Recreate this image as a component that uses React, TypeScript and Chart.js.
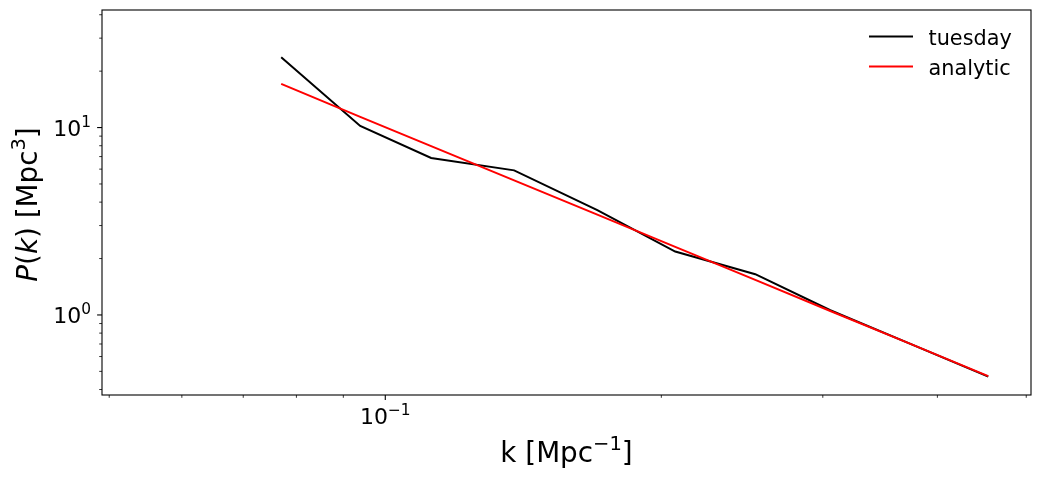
import React, { useEffect, useRef } from "react";
import { Chart, registerables } from "chart.js";

Chart.register(...registerables);

// ---- data ----
const kValues = [0.077, 0.0939, 0.1122, 0.1382, 0.1703, 0.2071, 0.2532, 0.3057, 0.3727, 0.4545];
const tuesdayP = [23.7, 10.2, 6.88, 5.91, 3.63, 2.18, 1.65, 1.06, 0.705, 0.469];
const analyticP = [17.1, 11.4, 7.96, 5.23, 3.43, 2.31, 1.54, 1.05, 0.705, 0.472];

const seriesLabels = ["tuesday", "analytic"];
const seriesColors = ["#000000", "#ff0000"];

const xMin = 0.0491;
const xMax = 0.506;
const yMin = 0.374;
const yMax = 42.4;

const xTickValues = [0.05, 0.06, 0.07, 0.08, 0.09, 0.1, 0.2, 0.3, 0.4, 0.5];
const xMajorTicks = [0.1];
const xMajorLabels = [["10", "\u22121"]];

const yTickValues = [0.4, 0.5, 0.6, 0.7, 0.8, 0.9, 1, 2, 3, 4, 5, 6, 7, 8, 9, 10, 20, 30, 40];
const yMajorTicks = [1, 10];
const yMajorLabels = [["10", "0"], ["10", "1"]];

const FONT = "'DejaVu Sans', sans-serif";

type Part = { text: string; size: number; italic?: boolean; rise?: number };

function fontOf(p: Part) {
  return `${p.italic ? "italic " : ""}${p.size}px ${FONT}`;
}

function drawRich(ctx: CanvasRenderingContext2D, parts: Part[], x: number, y: number, align: "left" | "center" | "right") {
  let total = 0;
  const widths = parts.map((p) => {
    ctx.font = fontOf(p);
    const w = ctx.measureText(p.text).width;
    total += w;
    return w;
  });
  let cx = align === "left" ? x : align === "center" ? x - total / 2 : x - total;
  ctx.textAlign = "left";
  ctx.textBaseline = "alphabetic";
  parts.forEach((p, i) => {
    ctx.font = fontOf(p);
    ctx.fillText(p.text, cx, y - (p.rise || 0));
    cx += widths[i];
  });
}

const decorPlugin = {
  id: "decor",
  afterDraw(chart: any) {
    const { ctx, chartArea: a, scales } = chart;
    const xs = scales.x;
    const ys = scales.y;
    ctx.save();
    ctx.fillStyle = "#000";
    ctx.strokeStyle = "#000";

    // frame
    ctx.lineWidth = 1.1;
    ctx.strokeRect(a.left, a.top, a.right - a.left, a.bottom - a.top);

    // x ticks
    xTickValues.forEach((v) => {
      const px = xs.getPixelForValue(v);
      const major = xMajorTicks.includes(v);
      ctx.lineWidth = major ? 1.1 : 0.8;
      ctx.beginPath();
      ctx.moveTo(px, a.bottom);
      ctx.lineTo(px, a.bottom + (major ? 4.9 : 2.8));
      ctx.stroke();
    });
    xMajorTicks.forEach((v, i) => {
      const px = xs.getPixelForValue(v);
      const [base, sup] = xMajorLabels[i];
      drawRich(ctx, [
        { text: base, size: 22 },
        { text: sup, size: 15.4, rise: 9.5 },
      ], px, a.bottom + 29, "center");
    });

    // y ticks
    yTickValues.forEach((v) => {
      const py = ys.getPixelForValue(v);
      const major = yMajorTicks.includes(v);
      ctx.lineWidth = major ? 1.1 : 0.8;
      ctx.beginPath();
      ctx.moveTo(a.left, py);
      ctx.lineTo(a.left - (major ? 4.9 : 2.8), py);
      ctx.stroke();
    });
    yMajorTicks.forEach((v, i) => {
      const py = ys.getPixelForValue(v);
      const [base, sup] = yMajorLabels[i];
      drawRich(ctx, [
        { text: base, size: 22 },
        { text: sup, size: 15.4, rise: 9.5 },
      ], a.left - 11, py + 8.5, "right");
    });

    // x axis title
    drawRich(ctx, [
      { text: "k [Mpc", size: 27.8 },
      { text: "\u22121", size: 19.5, rise: 12 },
      { text: "]", size: 27.8 },
    ], (a.left + a.right) / 2, 462, "center");

    // y axis title
    ctx.save();
    ctx.translate(36.5, 204.5);
    ctx.rotate(-Math.PI / 2);
    drawRich(ctx, [
      { text: "P", size: 27.8, italic: true },
      { text: "(", size: 27.8 },
      { text: "k", size: 27.8, italic: true },
      { text: ") [Mpc", size: 27.8 },
      { text: "3", size: 19.5, rise: 12 },
      { text: "]", size: 27.8 },
    ], 0, 0, "center");
    ctx.restore();

    // legend
    seriesLabels.forEach((lab, i) => {
      const ly = 36.5 + i * 30;
      ctx.strokeStyle = seriesColors[i];
      ctx.lineWidth = 2;
      ctx.beginPath();
      ctx.moveTo(869, ly);
      ctx.lineTo(913, ly);
      ctx.stroke();
      ctx.fillStyle = "#000";
      ctx.font = `20.8px ${FONT}`;
      ctx.textAlign = "left";
      ctx.textBaseline = "alphabetic";
      ctx.fillText(lab, 928.5, ly + 8.5);
    });

    ctx.restore();
  },
};

export default function App() {
  const ref = useRef<HTMLCanvasElement | null>(null);

  useEffect(() => {
    document.body.style.margin = "0";
    const canvas = ref.current;
    if (!canvas) return;
    const chart = new Chart(canvas, {
      type: "line",
      data: {
        datasets: [
          {
            label: seriesLabels[0],
            data: kValues.map((k, i) => ({ x: k, y: tuesdayP[i] })),
            borderColor: seriesColors[0],
            backgroundColor: seriesColors[0],
            borderWidth: 2,
            pointRadius: 0,
            tension: 0,
            fill: false,
            order: 2,
          },
          {
            label: seriesLabels[1],
            data: kValues.map((k, i) => ({ x: k, y: analyticP[i] })),
            borderColor: seriesColors[1],
            backgroundColor: seriesColors[1],
            borderWidth: 2,
            pointRadius: 0,
            tension: 0,
            fill: false,
            order: 1,
          },
        ],
      },
      options: {
        responsive: false,
        animation: false,
        devicePixelRatio: 1,
        layout: { padding: { top: 10, right: 9, left: 0, bottom: 0 } },
        plugins: {
          legend: { display: false },
          tooltip: { enabled: false },
          title: { display: false },
        },
        events: [],
        scales: {
          x: {
            type: "logarithmic",
            min: xMin,
            max: xMax,
            grid: { display: false },
            border: { display: false },
            ticks: { display: false },
            afterFit: (s: any) => {
              s.height = 86;
            },
          },
          y: {
            type: "logarithmic",
            min: yMin,
            max: yMax,
            grid: { display: false },
            border: { display: false },
            ticks: { display: false },
            afterFit: (s: any) => {
              s.width = 102;
            },
          },
        },
      } as any,
      plugins: [decorPlugin],
    });
    return () => chart.destroy();
  }, []);

  return (
    <div style={{ position: "absolute", left: 0, top: 0, width: 1040, height: 481, background: "#fff" }}>
      <canvas ref={ref} width={1040} height={481} style={{ display: "block" }} />
    </div>
  );
}
